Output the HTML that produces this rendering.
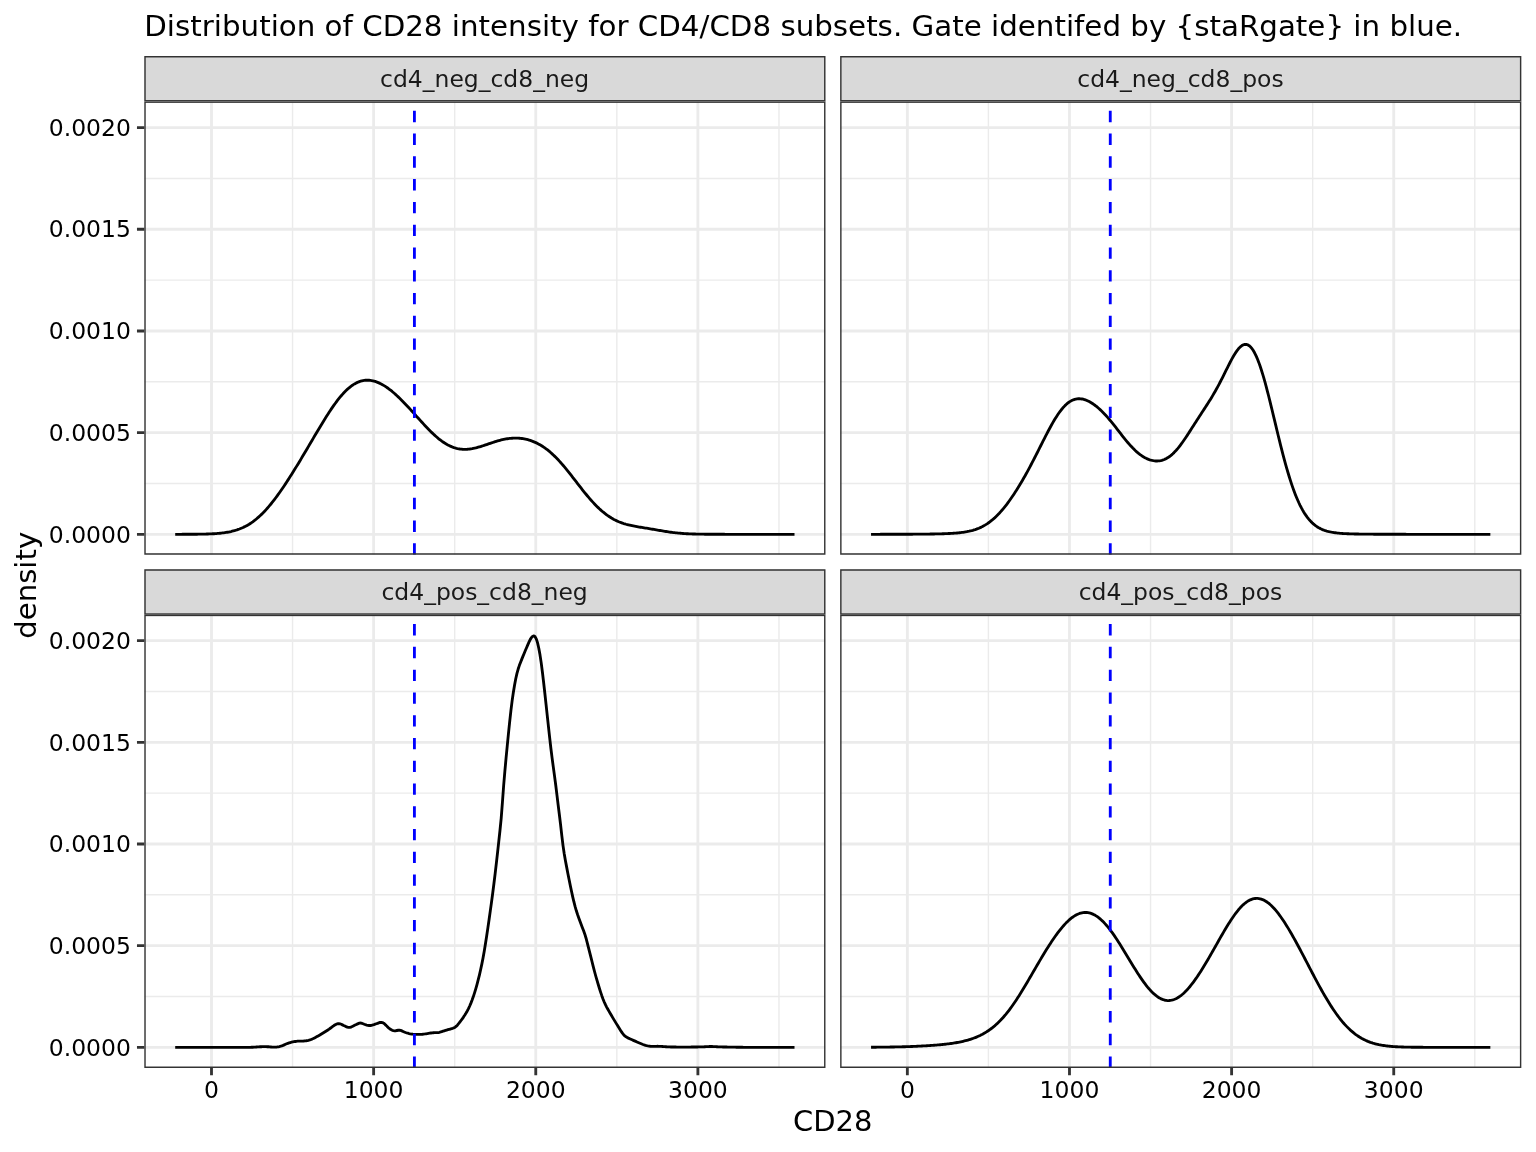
<!DOCTYPE html>
<html lang="en"><head><meta charset="utf-8"><title>CD28 density by CD4/CD8 subset</title>
<style>html,body{margin:0;padding:0;background:#fff}svg{display:block;will-change:transform;isolation:isolate;mix-blend-mode:multiply}text{font-family:"DejaVu Sans","Liberation Sans",sans-serif}</style></head><body>
<svg width="1536" height="1152" viewBox="0 0 1536 1152">
<rect width="1536" height="1152" fill="#fff"/>
<defs>
<clipPath id="cp00"><rect x="144.30" y="101.46" width="681.18" height="453.20"/></clipPath>
<clipPath id="cs00"><rect x="144.30" y="56.06" width="681.18" height="45.40"/></clipPath>
<clipPath id="cp01"><rect x="840.15" y="101.46" width="681.18" height="453.20"/></clipPath>
<clipPath id="cs01"><rect x="840.15" y="56.06" width="681.18" height="45.40"/></clipPath>
<clipPath id="cp10"><rect x="144.30" y="614.73" width="681.18" height="453.20"/></clipPath>
<clipPath id="cs10"><rect x="144.30" y="569.33" width="681.18" height="45.40"/></clipPath>
<clipPath id="cp11"><rect x="840.15" y="614.73" width="681.18" height="453.20"/></clipPath>
<clipPath id="cs11"><rect x="840.15" y="569.33" width="681.18" height="45.40"/></clipPath>
</defs>
<g clip-path="url(#cp00)">
<rect x="144.30" y="101.46" width="681.18" height="453.20" fill="#fff"/>
<path d="M144.30 483.47H825.48M144.30 381.80H825.48M144.30 280.12H825.48M144.30 178.45H825.48M292.56 101.46V554.66M454.69 101.46V554.66M616.83 101.46V554.66M778.96 101.46V554.66" stroke="#EBEBEB" stroke-width="1.42" fill="none"/>
<path d="M144.30 534.31H825.48M144.30 432.63H825.48M144.30 330.96H825.48M144.30 229.28H825.48M144.30 127.61H825.48M211.50 101.46V554.66M373.63 101.46V554.66M535.76 101.46V554.66M697.89 101.46V554.66" stroke="#EBEBEB" stroke-width="2.84" fill="none"/>
<polyline points="175.20,534.30 176.41,534.30 177.62,534.30 178.84,534.30 180.05,534.30 181.26,534.30 182.47,534.29 183.68,534.29 184.90,534.29 186.11,534.29 187.32,534.28 188.53,534.28 189.74,534.27 190.96,534.26 192.17,534.26 193.38,534.25 194.59,534.24 195.80,534.23 197.01,534.22 198.23,534.20 199.44,534.18 200.65,534.17 201.86,534.14 203.07,534.12 204.29,534.09 205.50,534.06 206.71,534.03 207.92,533.99 209.13,533.94 210.35,533.90 211.56,533.84 212.77,533.78 213.98,533.71 215.19,533.63 216.41,533.55 217.62,533.45 218.83,533.35 220.04,533.23 221.25,533.10 222.47,532.96 223.68,532.81 224.89,532.64 226.10,532.45 227.31,532.25 228.53,532.03 229.74,531.79 230.95,531.53 232.16,531.24 233.37,530.93 234.58,530.60 235.80,530.24 237.01,529.86 238.22,529.44 239.43,529.00 240.64,528.52 241.86,528.01 243.07,527.47 244.28,526.89 245.49,526.28 246.70,525.63 247.92,524.94 249.13,524.21 250.34,523.44 251.55,522.64 252.76,521.79 253.98,520.89 255.19,519.96 256.40,518.98 257.61,517.96 258.82,516.90 260.04,515.79 261.25,514.64 262.46,513.45 263.67,512.22 264.88,510.95 266.10,509.63 267.31,508.27 268.52,506.88 269.73,505.45 270.94,503.98 272.15,502.47 273.37,500.93 274.58,499.35 275.79,497.74 277.00,496.10 278.21,494.43 279.43,492.73 280.64,491.01 281.85,489.25 283.06,487.48 284.27,485.68 285.49,483.85 286.70,482.01 287.91,480.14 289.12,478.26 290.33,476.36 291.55,474.44 292.76,472.51 293.97,470.56 295.18,468.60 296.39,466.63 297.61,464.64 298.82,462.64 300.03,460.64 301.24,458.62 302.45,456.59 303.67,454.56 304.88,452.52 306.09,450.47 307.30,448.42 308.51,446.37 309.73,444.31 310.94,442.25 312.15,440.19 313.36,438.14 314.57,436.08 315.78,434.03 317.00,431.98 318.21,429.95 319.42,427.92 320.63,425.90 321.84,423.90 323.06,421.91 324.27,419.95 325.48,418.00 326.69,416.07 327.90,414.18 329.12,412.31 330.33,410.47 331.54,408.66 332.75,406.89 333.96,405.16 335.18,403.47 336.39,401.83 337.60,400.23 338.81,398.68 340.02,397.18 341.24,395.74 342.45,394.35 343.66,393.02 344.87,391.75 346.08,390.54 347.30,389.39 348.51,388.31 349.72,387.29 350.93,386.34 352.14,385.46 353.35,384.64 354.57,383.90 355.78,383.22 356.99,382.61 358.20,382.07 359.41,381.60 360.63,381.20 361.84,380.87 363.05,380.60 364.26,380.41 365.47,380.27 366.69,380.21 367.90,380.20 369.11,380.26 370.32,380.38 371.53,380.57 372.75,380.81 373.96,381.11 375.17,381.46 376.38,381.87 377.59,382.33 378.81,382.85 380.02,383.41 381.23,384.02 382.44,384.68 383.65,385.39 384.87,386.14 386.08,386.93 387.29,387.76 388.50,388.63 389.71,389.54 390.92,390.49 392.14,391.47 393.35,392.49 394.56,393.53 395.77,394.61 396.98,395.72 398.20,396.85 399.41,398.02 400.62,399.20 401.83,400.41 403.04,401.64 404.26,402.89 405.47,404.16 406.68,405.45 407.89,406.75 409.10,408.06 410.32,409.38 411.53,410.72 412.74,412.06 413.95,413.41 415.16,414.76 416.38,416.11 417.59,417.47 418.80,418.82 420.01,420.16 421.22,421.50 422.44,422.83 423.65,424.15 424.86,425.46 426.07,426.75 427.28,428.02 428.49,429.27 429.71,430.50 430.92,431.71 432.13,432.88 433.34,434.03 434.55,435.15 435.77,436.24 436.98,437.29 438.19,438.31 439.40,439.28 440.61,440.22 441.83,441.12 443.04,441.97 444.25,442.78 445.46,443.55 446.67,444.27 447.89,444.94 449.10,445.57 450.31,446.14 451.52,446.67 452.73,447.15 453.95,447.58 455.16,447.97 456.37,448.30 457.58,448.59 458.79,448.83 460.01,449.02 461.22,449.17 462.43,449.28 463.64,449.33 464.85,449.35 466.06,449.33 467.28,449.27 468.49,449.17 469.70,449.03 470.91,448.86 472.12,448.66 473.34,448.42 474.55,448.16 475.76,447.88 476.97,447.57 478.18,447.24 479.40,446.89 480.61,446.53 481.82,446.15 483.03,445.76 484.24,445.36 485.46,444.95 486.67,444.54 487.88,444.12 489.09,443.71 490.30,443.29 491.52,442.88 492.73,442.48 493.94,442.09 495.15,441.70 496.36,441.33 497.58,440.97 498.79,440.62 500.00,440.30 501.21,439.99 502.42,439.70 503.64,439.43 504.85,439.18 506.06,438.95 507.27,438.75 508.48,438.58 509.69,438.43 510.91,438.31 512.12,438.21 513.33,438.15 514.54,438.11 515.75,438.10 516.97,438.12 518.18,438.17 519.39,438.25 520.60,438.36 521.81,438.51 523.03,438.69 524.24,438.90 525.45,439.14 526.66,439.42 527.87,439.73 529.09,440.07 530.30,440.45 531.51,440.87 532.72,441.32 533.93,441.81 535.15,442.33 536.36,442.90 537.57,443.50 538.78,444.14 539.99,444.82 541.21,445.53 542.42,446.29 543.63,447.09 544.84,447.93 546.05,448.81 547.26,449.73 548.48,450.70 549.69,451.70 550.90,452.74 552.11,453.83 553.32,454.95 554.54,456.11 555.75,457.31 556.96,458.55 558.17,459.82 559.38,461.13 560.60,462.47 561.81,463.85 563.02,465.25 564.23,466.68 565.44,468.13 566.66,469.61 567.87,471.11 569.08,472.63 570.29,474.16 571.50,475.71 572.72,477.26 573.93,478.83 575.14,480.40 576.35,481.97 577.56,483.54 578.78,485.11 579.99,486.67 581.20,488.22 582.41,489.76 583.62,491.28 584.83,492.79 586.05,494.27 587.26,495.74 588.47,497.18 589.68,498.60 590.89,499.98 592.11,501.34 593.32,502.66 594.53,503.96 595.74,505.21 596.95,506.43 598.17,507.62 599.38,508.77 600.59,509.87 601.80,510.94 603.01,511.97 604.23,512.96 605.44,513.90 606.65,514.81 607.86,515.68 609.07,516.50 610.29,517.29 611.50,518.04 612.71,518.74 613.92,519.41 615.13,520.04 616.35,520.64 617.56,521.20 618.77,521.73 619.98,522.22 621.19,522.68 622.40,523.11 623.62,523.52 624.83,523.89 626.04,524.25 627.25,524.58 628.46,524.89 629.68,525.18 630.89,525.45 632.10,525.71 633.31,525.95 634.52,526.18 635.74,526.41 636.95,526.62 638.16,526.83 639.37,527.04 640.58,527.24 641.80,527.43 643.01,527.63 644.22,527.83 645.43,528.03 646.64,528.22 647.86,528.43 649.07,528.63 650.28,528.83 651.49,529.04 652.70,529.25 653.92,529.46 655.13,529.67 656.34,529.88 657.55,530.09 658.76,530.30 659.97,530.51 661.19,530.72 662.40,530.93 663.61,531.13 664.82,531.33 666.03,531.52 667.25,531.71 668.46,531.89 669.67,532.06 670.88,532.23 672.09,532.39 673.31,532.54 674.52,532.69 675.73,532.83 676.94,532.96 678.15,533.08 679.37,533.19 680.58,533.29 681.79,533.39 683.00,533.48 684.21,533.56 685.43,533.64 686.64,533.71 687.85,533.77 689.06,533.83 690.27,533.88 691.49,533.93 692.70,533.97 693.91,534.01 695.12,534.04 696.33,534.07 697.55,534.10 698.76,534.12 699.97,534.14 701.18,534.16 702.39,534.18 703.60,534.20 704.82,534.21 706.03,534.22 707.24,534.23 708.45,534.24 709.66,534.25 710.88,534.25 712.09,534.26 713.30,534.27 714.51,534.27 715.72,534.27 716.94,534.28 718.15,534.28 719.36,534.28 720.57,534.29 721.78,534.29 723.00,534.29 724.21,534.29 725.42,534.30 726.63,534.30 727.84,534.30 729.06,534.30 730.27,534.30 731.48,534.30 732.69,534.30 733.90,534.30 735.12,534.30 736.33,534.30 737.54,534.30 738.75,534.31 739.96,534.31 741.17,534.31 742.39,534.31 743.60,534.31 744.81,534.31 746.02,534.31 747.23,534.31 748.45,534.31 749.66,534.31 750.87,534.31 752.08,534.31 753.29,534.31 754.51,534.31 755.72,534.31 756.93,534.31 758.14,534.31 759.35,534.31 760.57,534.31 761.78,534.31 762.99,534.31 764.20,534.31 765.41,534.31 766.63,534.31 767.84,534.31 769.05,534.31 770.26,534.31 771.47,534.31 772.69,534.31 773.90,534.31 775.11,534.31 776.32,534.31 777.53,534.31 778.74,534.31 779.96,534.31 781.17,534.31 782.38,534.31 783.59,534.31 784.80,534.31 786.02,534.31 787.23,534.31 788.44,534.31 789.65,534.31 790.86,534.31 792.08,534.31 793.29,534.31 794.50,534.31" fill="none" stroke="#000" stroke-width="2.84" stroke-linejoin="round" stroke-linecap="butt"/>
<path d="M414.41 554.66V101.46" stroke="#0000FF" stroke-width="2.84" stroke-dasharray="11.38 11.38" fill="none"/>
<rect x="144.30" y="101.46" width="681.18" height="453.20" fill="none" stroke="#333333" stroke-width="2.84"/>
</g>
<g clip-path="url(#cs00)"><rect x="144.30" y="56.06" width="681.18" height="45.40" fill="#D9D9D9" stroke="#333333" stroke-width="2.84"/></g>
<text transform="translate(484.59 86.56) scale(1 0.945)" font-size="23.47" fill="#1A1A1A" text-anchor="middle">cd4_neg_cd8_neg</text>
<g clip-path="url(#cp01)">
<rect x="840.15" y="101.46" width="681.18" height="453.20" fill="#fff"/>
<path d="M840.15 483.47H1521.33M840.15 381.80H1521.33M840.15 280.12H1521.33M840.15 178.45H1521.33M988.41 101.46V554.66M1150.54 101.46V554.66M1312.67 101.46V554.66M1474.80 101.46V554.66" stroke="#EBEBEB" stroke-width="1.42" fill="none"/>
<path d="M840.15 534.31H1521.33M840.15 432.63H1521.33M840.15 330.96H1521.33M840.15 229.28H1521.33M840.15 127.61H1521.33M907.35 101.46V554.66M1069.48 101.46V554.66M1231.61 101.46V554.66M1393.74 101.46V554.66" stroke="#EBEBEB" stroke-width="2.84" fill="none"/>
<polyline points="871.05,534.30 872.26,534.30 873.47,534.30 874.69,534.30 875.90,534.30 877.11,534.30 878.32,534.30 879.53,534.30 880.75,534.29 881.96,534.29 883.17,534.29 884.38,534.29 885.59,534.29 886.81,534.29 888.02,534.29 889.23,534.28 890.44,534.28 891.65,534.28 892.86,534.28 894.08,534.27 895.29,534.27 896.50,534.27 897.71,534.27 898.92,534.26 900.14,534.26 901.35,534.26 902.56,534.25 903.77,534.25 904.98,534.24 906.20,534.24 907.41,534.23 908.62,534.23 909.83,534.22 911.04,534.21 912.26,534.21 913.47,534.20 914.68,534.19 915.89,534.18 917.10,534.18 918.32,534.17 919.53,534.16 920.74,534.15 921.95,534.13 923.16,534.12 924.38,534.11 925.59,534.10 926.80,534.08 928.01,534.07 929.22,534.05 930.43,534.03 931.65,534.01 932.86,533.99 934.07,533.97 935.28,533.95 936.49,533.92 937.71,533.89 938.92,533.87 940.13,533.83 941.34,533.80 942.55,533.76 943.77,533.73 944.98,533.68 946.19,533.64 947.40,533.59 948.61,533.53 949.83,533.47 951.04,533.41 952.25,533.34 953.46,533.26 954.67,533.17 955.89,533.08 957.10,532.98 958.31,532.87 959.52,532.74 960.73,532.61 961.95,532.46 963.16,532.30 964.37,532.12 965.58,531.93 966.79,531.72 968.00,531.48 969.22,531.23 970.43,530.95 971.64,530.65 972.85,530.32 974.06,529.96 975.28,529.57 976.49,529.15 977.70,528.69 978.91,528.20 980.12,527.67 981.34,527.10 982.55,526.49 983.76,525.84 984.97,525.14 986.18,524.40 987.40,523.61 988.61,522.77 989.82,521.89 991.03,520.95 992.24,519.97 993.46,518.93 994.67,517.85 995.88,516.71 997.09,515.52 998.30,514.29 999.52,513.00 1000.73,511.66 1001.94,510.28 1003.15,508.85 1004.36,507.37 1005.58,505.84 1006.79,504.27 1008.00,502.66 1009.21,501.00 1010.42,499.30 1011.63,497.56 1012.85,495.78 1014.06,493.96 1015.27,492.10 1016.48,490.20 1017.69,488.27 1018.91,486.30 1020.12,484.30 1021.33,482.26 1022.54,480.18 1023.75,478.08 1024.97,475.93 1026.18,473.76 1027.39,471.56 1028.60,469.32 1029.81,467.06 1031.03,464.77 1032.24,462.46 1033.45,460.12 1034.66,457.76 1035.87,455.38 1037.09,452.99 1038.30,450.58 1039.51,448.17 1040.72,445.76 1041.93,443.35 1043.15,440.94 1044.36,438.55 1045.57,436.17 1046.78,433.82 1047.99,431.50 1049.20,429.22 1050.42,426.98 1051.63,424.78 1052.84,422.65 1054.05,420.57 1055.26,418.57 1056.48,416.64 1057.69,414.79 1058.90,413.02 1060.11,411.35 1061.32,409.77 1062.54,408.29 1063.75,406.91 1064.96,405.64 1066.17,404.47 1067.38,403.42 1068.60,402.47 1069.81,401.63 1071.02,400.90 1072.23,400.29 1073.44,399.78 1074.66,399.37 1075.87,399.07 1077.08,398.86 1078.29,398.76 1079.50,398.74 1080.72,398.82 1081.93,398.99 1083.14,399.23 1084.35,399.56 1085.56,399.96 1086.77,400.43 1087.99,400.97 1089.20,401.58 1090.41,402.25 1091.62,402.98 1092.83,403.77 1094.05,404.61 1095.26,405.51 1096.47,406.46 1097.68,407.46 1098.89,408.51 1100.11,409.61 1101.32,410.76 1102.53,411.95 1103.74,413.18 1104.95,414.46 1106.17,415.78 1107.38,417.13 1108.59,418.53 1109.80,419.96 1111.01,421.41 1112.23,422.90 1113.44,424.41 1114.65,425.94 1115.86,427.49 1117.07,429.04 1118.29,430.61 1119.50,432.17 1120.71,433.73 1121.92,435.29 1123.13,436.83 1124.34,438.35 1125.56,439.84 1126.77,441.31 1127.98,442.75 1129.19,444.15 1130.40,445.51 1131.62,446.82 1132.83,448.09 1134.04,449.30 1135.25,450.47 1136.46,451.58 1137.68,452.63 1138.89,453.62 1140.10,454.55 1141.31,455.43 1142.52,456.24 1143.74,456.99 1144.95,457.68 1146.16,458.30 1147.37,458.86 1148.58,459.36 1149.80,459.80 1151.01,460.16 1152.22,460.46 1153.43,460.70 1154.64,460.86 1155.86,460.96 1157.07,460.98 1158.28,460.92 1159.49,460.79 1160.70,460.58 1161.91,460.29 1163.13,459.92 1164.34,459.46 1165.55,458.92 1166.76,458.29 1167.97,457.56 1169.19,456.75 1170.40,455.85 1171.61,454.86 1172.82,453.78 1174.03,452.61 1175.25,451.36 1176.46,450.02 1177.67,448.61 1178.88,447.12 1180.09,445.56 1181.31,443.94 1182.52,442.27 1183.73,440.54 1184.94,438.77 1186.15,436.96 1187.37,435.12 1188.58,433.26 1189.79,431.38 1191.00,429.49 1192.21,427.59 1193.43,425.69 1194.64,423.80 1195.85,421.91 1197.06,420.02 1198.27,418.15 1199.49,416.28 1200.70,414.43 1201.91,412.57 1203.12,410.72 1204.33,408.87 1205.54,407.01 1206.76,405.13 1207.97,403.24 1209.18,401.32 1210.39,399.38 1211.60,397.40 1212.82,395.38 1214.03,393.31 1215.24,391.20 1216.45,389.04 1217.66,386.83 1218.88,384.57 1220.09,382.26 1221.30,379.91 1222.51,377.52 1223.72,375.11 1224.94,372.68 1226.15,370.23 1227.36,367.80 1228.57,365.39 1229.78,363.01 1231.00,360.70 1232.21,358.45 1233.42,356.30 1234.63,354.27 1235.84,352.37 1237.06,350.62 1238.27,349.05 1239.48,347.68 1240.69,346.52 1241.90,345.59 1243.11,344.91 1244.33,344.50 1245.54,344.35 1246.75,344.50 1247.96,344.95 1249.17,345.69 1250.39,346.75 1251.60,348.12 1252.81,349.79 1254.02,351.77 1255.23,354.06 1256.45,356.64 1257.66,359.51 1258.87,362.65 1260.08,366.06 1261.29,369.71 1262.51,373.59 1263.72,377.68 1264.93,381.96 1266.14,386.42 1267.35,391.03 1268.57,395.77 1269.78,400.61 1270.99,405.54 1272.20,410.54 1273.41,415.57 1274.63,420.63 1275.84,425.69 1277.05,430.73 1278.26,435.73 1279.47,440.68 1280.68,445.55 1281.90,450.34 1283.11,455.03 1284.32,459.60 1285.53,464.04 1286.74,468.35 1287.96,472.51 1289.17,476.53 1290.38,480.38 1291.59,484.08 1292.80,487.61 1294.02,490.97 1295.23,494.16 1296.44,497.19 1297.65,500.05 1298.86,502.75 1300.08,505.29 1301.29,507.67 1302.50,509.89 1303.71,511.97 1304.92,513.90 1306.14,515.70 1307.35,517.36 1308.56,518.90 1309.77,520.32 1310.98,521.63 1312.20,522.83 1313.41,523.92 1314.62,524.93 1315.83,525.85 1317.04,526.68 1318.25,527.44 1319.47,528.13 1320.68,528.75 1321.89,529.32 1323.10,529.83 1324.31,530.29 1325.53,530.70 1326.74,531.07 1327.95,531.40 1329.16,531.70 1330.37,531.97 1331.59,532.21 1332.80,532.42 1334.01,532.61 1335.22,532.78 1336.43,532.93 1337.65,533.07 1338.86,533.19 1340.07,533.30 1341.28,533.39 1342.49,533.48 1343.71,533.56 1344.92,533.62 1346.13,533.68 1347.34,533.74 1348.55,533.79 1349.77,533.83 1350.98,533.87 1352.19,533.91 1353.40,533.94 1354.61,533.97 1355.82,534.00 1357.04,534.02 1358.25,534.04 1359.46,534.06 1360.67,534.08 1361.88,534.10 1363.10,534.11 1364.31,534.13 1365.52,534.14 1366.73,534.15 1367.94,534.16 1369.16,534.17 1370.37,534.18 1371.58,534.19 1372.79,534.20 1374.00,534.21 1375.22,534.21 1376.43,534.22 1377.64,534.23 1378.85,534.23 1380.06,534.24 1381.28,534.24 1382.49,534.25 1383.70,534.25 1384.91,534.26 1386.12,534.26 1387.34,534.26 1388.55,534.27 1389.76,534.27 1390.97,534.27 1392.18,534.28 1393.40,534.28 1394.61,534.28 1395.82,534.28 1397.03,534.28 1398.24,534.29 1399.45,534.29 1400.67,534.29 1401.88,534.29 1403.09,534.29 1404.30,534.29 1405.51,534.29 1406.73,534.30 1407.94,534.30 1409.15,534.30 1410.36,534.30 1411.57,534.30 1412.79,534.30 1414.00,534.30 1415.21,534.30 1416.42,534.30 1417.63,534.30 1418.85,534.30 1420.06,534.30 1421.27,534.30 1422.48,534.31 1423.69,534.31 1424.91,534.31 1426.12,534.31 1427.33,534.31 1428.54,534.31 1429.75,534.31 1430.97,534.31 1432.18,534.31 1433.39,534.31 1434.60,534.31 1435.81,534.31 1437.02,534.31 1438.24,534.31 1439.45,534.31 1440.66,534.31 1441.87,534.31 1443.08,534.31 1444.30,534.31 1445.51,534.31 1446.72,534.31 1447.93,534.31 1449.14,534.31 1450.36,534.31 1451.57,534.31 1452.78,534.31 1453.99,534.31 1455.20,534.31 1456.42,534.31 1457.63,534.31 1458.84,534.31 1460.05,534.31 1461.26,534.31 1462.48,534.31 1463.69,534.31 1464.90,534.31 1466.11,534.31 1467.32,534.31 1468.54,534.31 1469.75,534.31 1470.96,534.31 1472.17,534.31 1473.38,534.31 1474.59,534.31 1475.81,534.31 1477.02,534.31 1478.23,534.31 1479.44,534.31 1480.65,534.31 1481.87,534.31 1483.08,534.31 1484.29,534.31 1485.50,534.31 1486.71,534.31 1487.93,534.31 1489.14,534.31 1490.35,534.31" fill="none" stroke="#000" stroke-width="2.84" stroke-linejoin="round" stroke-linecap="butt"/>
<path d="M1110.26 554.66V101.46" stroke="#0000FF" stroke-width="2.84" stroke-dasharray="11.38 11.38" fill="none"/>
<rect x="840.15" y="101.46" width="681.18" height="453.20" fill="none" stroke="#333333" stroke-width="2.84"/>
</g>
<g clip-path="url(#cs01)"><rect x="840.15" y="56.06" width="681.18" height="45.40" fill="#D9D9D9" stroke="#333333" stroke-width="2.84"/></g>
<text transform="translate(1180.44 86.56) scale(1 0.945)" font-size="23.47" fill="#1A1A1A" text-anchor="middle">cd4_neg_cd8_pos</text>
<g clip-path="url(#cp10)">
<rect x="144.30" y="614.73" width="681.18" height="453.20" fill="#fff"/>
<path d="M144.30 996.49H825.48M144.30 894.82H825.48M144.30 793.14H825.48M144.30 691.47H825.48M292.56 614.73V1067.93M454.69 614.73V1067.93M616.83 614.73V1067.93M778.96 614.73V1067.93" stroke="#EBEBEB" stroke-width="1.42" fill="none"/>
<path d="M144.30 1047.33H825.48M144.30 945.66H825.48M144.30 843.98H825.48M144.30 742.31H825.48M144.30 640.63H825.48M211.50 614.73V1067.93M373.63 614.73V1067.93M535.76 614.73V1067.93M697.89 614.73V1067.93" stroke="#EBEBEB" stroke-width="2.84" fill="none"/>
<polyline points="175.20,1047.33 176.41,1047.33 177.62,1047.33 178.84,1047.33 180.05,1047.33 181.26,1047.33 182.47,1047.33 183.68,1047.33 184.90,1047.33 186.11,1047.33 187.32,1047.33 188.53,1047.33 189.74,1047.33 190.96,1047.33 192.17,1047.33 193.38,1047.33 194.59,1047.33 195.80,1047.33 197.01,1047.33 198.23,1047.33 199.44,1047.33 200.65,1047.33 201.86,1047.33 203.07,1047.33 204.29,1047.33 205.50,1047.33 206.71,1047.33 207.92,1047.33 209.13,1047.33 210.35,1047.33 211.56,1047.33 212.77,1047.33 213.98,1047.33 215.19,1047.33 216.41,1047.33 217.62,1047.33 218.83,1047.33 220.04,1047.33 221.25,1047.33 222.47,1047.33 223.68,1047.33 224.89,1047.33 226.10,1047.33 227.31,1047.33 228.53,1047.33 229.74,1047.33 230.95,1047.33 232.16,1047.33 233.37,1047.33 234.58,1047.33 235.80,1047.33 237.01,1047.33 238.22,1047.33 239.43,1047.33 240.64,1047.33 241.86,1047.33 243.07,1047.33 244.28,1047.33 245.49,1047.33 246.70,1047.33 247.92,1047.33 249.13,1047.33 250.34,1047.32 251.55,1047.28 252.76,1047.23 253.98,1047.17 255.19,1047.10 256.40,1047.02 257.61,1046.94 258.82,1046.87 260.04,1046.79 261.25,1046.72 262.46,1046.67 263.67,1046.63 264.88,1046.62 266.10,1046.65 267.31,1046.71 268.52,1046.79 269.73,1046.88 270.94,1046.97 272.15,1047.05 273.37,1047.10 274.58,1047.12 275.79,1047.08 277.00,1046.97 278.21,1046.78 279.43,1046.52 280.64,1046.20 281.85,1045.82 283.06,1045.36 284.27,1044.85 285.49,1044.31 286.70,1043.79 287.91,1043.31 289.12,1042.90 290.33,1042.54 291.55,1042.23 292.76,1041.95 293.97,1041.70 295.18,1041.48 296.39,1041.30 297.61,1041.17 298.82,1041.10 300.03,1041.08 301.24,1041.09 302.45,1041.08 303.67,1041.02 304.88,1040.91 306.09,1040.75 307.30,1040.53 308.51,1040.27 309.73,1039.94 310.94,1039.54 312.15,1039.06 313.36,1038.51 314.57,1037.91 315.78,1037.28 317.00,1036.62 318.21,1035.94 319.42,1035.24 320.63,1034.51 321.84,1033.77 323.06,1033.02 324.27,1032.27 325.48,1031.50 326.69,1030.73 327.90,1029.94 329.12,1029.11 330.33,1028.23 331.54,1027.32 332.75,1026.42 333.96,1025.56 335.18,1024.78 336.39,1024.14 337.60,1023.72 338.81,1023.59 340.02,1023.79 341.24,1024.26 342.45,1024.88 343.66,1025.52 344.87,1026.09 346.08,1026.63 347.30,1027.13 348.51,1027.44 349.72,1027.42 350.93,1027.08 352.14,1026.54 353.35,1025.94 354.57,1025.33 355.78,1024.74 356.99,1024.16 358.20,1023.62 359.41,1023.20 360.63,1023.03 361.84,1023.23 363.05,1023.70 364.26,1024.23 365.47,1024.66 366.69,1025.02 367.90,1025.33 369.11,1025.50 370.32,1025.48 371.53,1025.28 372.75,1024.97 373.96,1024.59 375.17,1024.18 376.38,1023.77 377.59,1023.33 378.81,1022.87 380.02,1022.47 381.23,1022.30 382.44,1022.56 383.65,1023.23 384.87,1024.20 386.08,1025.37 387.29,1026.61 388.50,1027.77 389.71,1028.74 390.92,1029.57 392.14,1030.23 393.35,1030.68 394.56,1030.85 395.77,1030.74 396.98,1030.48 398.20,1030.25 399.41,1030.21 400.62,1030.45 401.83,1030.91 403.04,1031.47 404.26,1032.04 405.47,1032.52 406.68,1032.91 407.89,1033.23 409.10,1033.53 410.32,1033.80 411.53,1034.03 412.74,1034.20 413.95,1034.31 415.16,1034.38 416.38,1034.42 417.59,1034.43 418.80,1034.42 420.01,1034.39 421.22,1034.32 422.44,1034.23 423.65,1034.11 424.86,1033.96 426.07,1033.78 427.28,1033.58 428.49,1033.37 429.71,1033.17 430.92,1032.97 432.13,1032.81 433.34,1032.71 434.55,1032.67 435.77,1032.67 436.98,1032.65 438.19,1032.54 439.40,1032.30 440.61,1031.97 441.83,1031.60 443.04,1031.22 444.25,1030.83 445.46,1030.45 446.67,1030.08 447.89,1029.72 449.10,1029.37 450.31,1029.02 451.52,1028.66 452.73,1028.29 453.95,1027.83 455.16,1027.15 456.37,1026.17 457.58,1024.90 458.79,1023.43 460.01,1021.85 461.22,1020.23 462.43,1018.57 463.64,1016.83 464.85,1015.00 466.06,1013.06 467.28,1010.97 468.49,1008.64 469.70,1006.02 470.91,1003.13 472.12,999.99 473.34,996.58 474.55,992.88 475.76,988.90 476.97,984.61 478.18,979.98 479.40,975.04 480.61,969.79 481.82,964.16 483.03,957.98 484.24,951.18 485.46,943.81 486.67,935.98 487.88,927.84 489.09,919.47 490.30,910.90 491.52,902.08 492.73,892.95 493.94,883.46 495.15,873.55 496.36,863.15 497.58,852.32 498.79,841.31 500.00,830.27 501.21,818.09 502.42,802.43 503.64,785.77 504.85,771.26 506.06,758.18 507.27,745.67 508.48,733.47 509.69,721.69 510.91,710.64 512.12,700.86 513.33,692.48 514.54,685.15 515.75,678.77 516.97,673.44 518.18,669.02 519.39,665.35 520.60,662.15 521.81,659.11 523.03,656.14 524.24,653.21 525.45,650.31 526.66,647.43 527.87,644.61 529.09,641.88 530.30,639.38 531.51,637.46 532.72,636.29 533.93,635.93 535.15,636.78 536.36,639.11 537.57,642.93 538.78,648.21 539.99,654.87 541.21,662.88 542.42,672.22 543.63,682.47 544.84,693.27 546.05,704.36 547.26,715.56 548.48,726.80 549.69,737.93 550.90,748.47 552.11,758.11 553.32,767.18 554.54,776.07 555.75,785.27 556.96,795.10 558.17,805.10 559.38,814.79 560.60,824.82 561.81,835.71 563.02,845.61 564.23,853.68 565.44,860.65 566.66,867.13 567.87,873.42 569.08,879.55 570.29,885.51 571.50,891.30 572.72,896.83 573.93,901.97 575.14,906.63 576.35,910.80 577.56,914.52 578.78,917.92 579.99,921.20 581.20,924.45 582.41,927.64 583.62,930.77 584.83,934.17 586.05,938.23 587.26,942.84 588.47,947.62 589.68,952.41 590.89,957.21 592.11,962.00 593.32,966.79 594.53,971.50 595.74,976.00 596.95,980.21 598.17,984.26 599.38,988.22 600.59,992.06 601.80,995.67 603.01,999.00 604.23,1002.01 605.44,1004.70 606.65,1007.09 607.86,1009.29 609.07,1011.40 610.29,1013.49 611.50,1015.55 612.71,1017.60 613.92,1019.62 615.13,1021.63 616.35,1023.62 617.56,1025.60 618.77,1027.57 619.98,1029.51 621.19,1031.40 622.40,1033.16 623.62,1034.68 624.83,1035.89 626.04,1036.78 627.25,1037.49 628.46,1038.12 629.68,1038.71 630.89,1039.28 632.10,1039.82 633.31,1040.35 634.52,1040.89 635.74,1041.42 636.95,1041.95 638.16,1042.48 639.37,1043.00 640.58,1043.51 641.80,1044.00 643.01,1044.47 644.22,1044.90 645.43,1045.29 646.64,1045.63 647.86,1045.90 649.07,1046.12 650.28,1046.26 651.49,1046.33 652.70,1046.36 653.92,1046.35 655.13,1046.32 656.34,1046.30 657.55,1046.29 658.76,1046.32 659.97,1046.37 661.19,1046.44 662.40,1046.52 663.61,1046.61 664.82,1046.69 666.03,1046.77 667.25,1046.84 668.46,1046.89 669.67,1046.93 670.88,1046.96 672.09,1046.98 673.31,1047.00 674.52,1047.02 675.73,1047.03 676.94,1047.05 678.15,1047.06 679.37,1047.07 680.58,1047.07 681.79,1047.08 683.00,1047.08 684.21,1047.08 685.43,1047.08 686.64,1047.08 687.85,1047.07 689.06,1047.06 690.27,1047.05 691.49,1047.04 692.70,1047.03 693.91,1047.02 695.12,1047.00 696.33,1046.99 697.55,1046.97 698.76,1046.95 699.97,1046.93 701.18,1046.91 702.39,1046.86 703.60,1046.81 704.82,1046.74 706.03,1046.68 707.24,1046.61 708.45,1046.56 709.66,1046.53 710.88,1046.52 712.09,1046.54 713.30,1046.58 714.51,1046.63 715.72,1046.68 716.94,1046.74 718.15,1046.80 719.36,1046.86 720.57,1046.90 721.78,1046.93 723.00,1046.96 724.21,1046.98 725.42,1047.00 726.63,1047.03 727.84,1047.05 729.06,1047.08 730.27,1047.10 731.48,1047.12 732.69,1047.15 733.90,1047.17 735.12,1047.19 736.33,1047.21 737.54,1047.23 738.75,1047.25 739.96,1047.26 741.17,1047.28 742.39,1047.29 743.60,1047.31 744.81,1047.32 746.02,1047.33 747.23,1047.33 748.45,1047.33 749.66,1047.33 750.87,1047.33 752.08,1047.33 753.29,1047.33 754.51,1047.33 755.72,1047.33 756.93,1047.33 758.14,1047.33 759.35,1047.33 760.57,1047.33 761.78,1047.33 762.99,1047.33 764.20,1047.33 765.41,1047.33 766.63,1047.33 767.84,1047.33 769.05,1047.33 770.26,1047.33 771.47,1047.33 772.69,1047.33 773.90,1047.33 775.11,1047.33 776.32,1047.33 777.53,1047.33 778.74,1047.33 779.96,1047.33 781.17,1047.33 782.38,1047.33 783.59,1047.33 784.80,1047.33 786.02,1047.33 787.23,1047.33 788.44,1047.33 789.65,1047.33 790.86,1047.33 792.08,1047.33 793.29,1047.33 794.50,1047.33" fill="none" stroke="#000" stroke-width="2.84" stroke-linejoin="round" stroke-linecap="butt"/>
<path d="M414.41 1067.93V614.73" stroke="#0000FF" stroke-width="2.84" stroke-dasharray="11.38 11.38" fill="none"/>
<rect x="144.30" y="614.73" width="681.18" height="453.20" fill="none" stroke="#333333" stroke-width="2.84"/>
</g>
<g clip-path="url(#cs10)"><rect x="144.30" y="569.33" width="681.18" height="45.40" fill="#D9D9D9" stroke="#333333" stroke-width="2.84"/></g>
<text transform="translate(484.59 599.83) scale(1 0.945)" font-size="23.47" fill="#1A1A1A" text-anchor="middle">cd4_pos_cd8_neg</text>
<g clip-path="url(#cp11)">
<rect x="840.15" y="614.73" width="681.18" height="453.20" fill="#fff"/>
<path d="M840.15 996.49H1521.33M840.15 894.82H1521.33M840.15 793.14H1521.33M840.15 691.47H1521.33M988.41 614.73V1067.93M1150.54 614.73V1067.93M1312.67 614.73V1067.93M1474.80 614.73V1067.93" stroke="#EBEBEB" stroke-width="1.42" fill="none"/>
<path d="M840.15 1047.33H1521.33M840.15 945.66H1521.33M840.15 843.98H1521.33M840.15 742.31H1521.33M840.15 640.63H1521.33M907.35 614.73V1067.93M1069.48 614.73V1067.93M1231.61 614.73V1067.93M1393.74 614.73V1067.93" stroke="#EBEBEB" stroke-width="2.84" fill="none"/>
<polyline points="871.05,1047.25 872.26,1047.24 873.47,1047.23 874.69,1047.22 875.90,1047.21 877.11,1047.20 878.32,1047.19 879.53,1047.18 880.75,1047.17 881.96,1047.16 883.17,1047.14 884.38,1047.13 885.59,1047.11 886.81,1047.10 888.02,1047.08 889.23,1047.06 890.44,1047.04 891.65,1047.02 892.86,1047.00 894.08,1046.98 895.29,1046.95 896.50,1046.93 897.71,1046.90 898.92,1046.87 900.14,1046.84 901.35,1046.81 902.56,1046.78 903.77,1046.74 904.98,1046.71 906.20,1046.67 907.41,1046.63 908.62,1046.59 909.83,1046.55 911.04,1046.50 912.26,1046.46 913.47,1046.41 914.68,1046.36 915.89,1046.31 917.10,1046.25 918.32,1046.20 919.53,1046.14 920.74,1046.08 921.95,1046.01 923.16,1045.95 924.38,1045.88 925.59,1045.81 926.80,1045.74 928.01,1045.66 929.22,1045.59 930.43,1045.50 931.65,1045.42 932.86,1045.33 934.07,1045.24 935.28,1045.15 936.49,1045.05 937.71,1044.95 938.92,1044.84 940.13,1044.73 941.34,1044.61 942.55,1044.49 943.77,1044.37 944.98,1044.24 946.19,1044.10 947.40,1043.96 948.61,1043.81 949.83,1043.65 951.04,1043.48 952.25,1043.31 953.46,1043.13 954.67,1042.93 955.89,1042.73 957.10,1042.52 958.31,1042.30 959.52,1042.06 960.73,1041.82 961.95,1041.56 963.16,1041.28 964.37,1040.99 965.58,1040.69 966.79,1040.37 968.00,1040.03 969.22,1039.67 970.43,1039.29 971.64,1038.89 972.85,1038.47 974.06,1038.03 975.28,1037.56 976.49,1037.07 977.70,1036.55 978.91,1036.01 980.12,1035.44 981.34,1034.83 982.55,1034.20 983.76,1033.53 984.97,1032.83 986.18,1032.09 987.40,1031.31 988.61,1030.50 989.82,1029.65 991.03,1028.76 992.24,1027.83 993.46,1026.85 994.67,1025.84 995.88,1024.77 997.09,1023.67 998.30,1022.51 999.52,1021.31 1000.73,1020.07 1001.94,1018.77 1003.15,1017.43 1004.36,1016.04 1005.58,1014.61 1006.79,1013.12 1008.00,1011.59 1009.21,1010.02 1010.42,1008.40 1011.63,1006.74 1012.85,1005.03 1014.06,1003.28 1015.27,1001.50 1016.48,999.67 1017.69,997.81 1018.91,995.92 1020.12,994.00 1021.33,992.05 1022.54,990.07 1023.75,988.07 1024.97,986.05 1026.18,984.01 1027.39,981.95 1028.60,979.89 1029.81,977.81 1031.03,975.72 1032.24,973.63 1033.45,971.54 1034.66,969.45 1035.87,967.36 1037.09,965.28 1038.30,963.21 1039.51,961.15 1040.72,959.10 1041.93,957.06 1043.15,955.05 1044.36,953.05 1045.57,951.07 1046.78,949.12 1047.99,947.19 1049.20,945.29 1050.42,943.43 1051.63,941.59 1052.84,939.79 1054.05,938.02 1055.26,936.29 1056.48,934.61 1057.69,932.96 1058.90,931.37 1060.11,929.82 1061.32,928.32 1062.54,926.87 1063.75,925.48 1064.96,924.14 1066.17,922.87 1067.38,921.66 1068.60,920.51 1069.81,919.43 1071.02,918.42 1072.23,917.48 1073.44,916.62 1074.66,915.83 1075.87,915.12 1077.08,914.49 1078.29,913.95 1079.50,913.48 1080.72,913.10 1081.93,912.81 1083.14,912.60 1084.35,912.48 1085.56,912.44 1086.77,912.50 1087.99,912.64 1089.20,912.88 1090.41,913.20 1091.62,913.61 1092.83,914.11 1094.05,914.69 1095.26,915.36 1096.47,916.12 1097.68,916.95 1098.89,917.87 1100.11,918.87 1101.32,919.95 1102.53,921.10 1103.74,922.32 1104.95,923.62 1106.17,924.98 1107.38,926.41 1108.59,927.90 1109.80,929.45 1111.01,931.05 1112.23,932.71 1113.44,934.42 1114.65,936.17 1115.86,937.97 1117.07,939.81 1118.29,941.68 1119.50,943.58 1120.71,945.51 1121.92,947.46 1123.13,949.44 1124.34,951.43 1125.56,953.43 1126.77,955.44 1127.98,957.45 1129.19,959.46 1130.40,961.47 1131.62,963.47 1132.83,965.45 1134.04,967.42 1135.25,969.37 1136.46,971.29 1137.68,973.18 1138.89,975.04 1140.10,976.87 1141.31,978.65 1142.52,980.38 1143.74,982.07 1144.95,983.70 1146.16,985.28 1147.37,986.80 1148.58,988.25 1149.80,989.64 1151.01,990.96 1152.22,992.20 1153.43,993.37 1154.64,994.45 1155.86,995.46 1157.07,996.38 1158.28,997.21 1159.49,997.95 1160.70,998.61 1161.91,999.17 1163.13,999.63 1164.34,1000.01 1165.55,1000.28 1166.76,1000.46 1167.97,1000.55 1169.19,1000.53 1170.40,1000.42 1171.61,1000.22 1172.82,999.92 1174.03,999.52 1175.25,999.04 1176.46,998.46 1177.67,997.79 1178.88,997.04 1180.09,996.20 1181.31,995.28 1182.52,994.27 1183.73,993.19 1184.94,992.04 1186.15,990.81 1187.37,989.51 1188.58,988.14 1189.79,986.71 1191.00,985.22 1192.21,983.67 1193.43,982.06 1194.64,980.40 1195.85,978.69 1197.06,976.94 1198.27,975.14 1199.49,973.29 1200.70,971.41 1201.91,969.49 1203.12,967.54 1204.33,965.56 1205.54,963.54 1206.76,961.50 1207.97,959.44 1209.18,957.36 1210.39,955.26 1211.60,953.14 1212.82,951.01 1214.03,948.87 1215.24,946.73 1216.45,944.58 1217.66,942.44 1218.88,940.30 1220.09,938.17 1221.30,936.05 1222.51,933.94 1223.72,931.86 1224.94,929.80 1226.15,927.77 1227.36,925.77 1228.57,923.81 1229.78,921.90 1231.00,920.03 1232.21,918.21 1233.42,916.44 1234.63,914.74 1235.84,913.10 1237.06,911.53 1238.27,910.03 1239.48,908.61 1240.69,907.27 1241.90,906.01 1243.11,904.84 1244.33,903.76 1245.54,902.78 1246.75,901.89 1247.96,901.09 1249.17,900.40 1250.39,899.81 1251.60,899.32 1252.81,898.93 1254.02,898.65 1255.23,898.47 1256.45,898.39 1257.66,898.42 1258.87,898.56 1260.08,898.79 1261.29,899.13 1262.51,899.57 1263.72,900.11 1264.93,900.74 1266.14,901.47 1267.35,902.29 1268.57,903.21 1269.78,904.21 1270.99,905.29 1272.20,906.46 1273.41,907.71 1274.63,909.04 1275.84,910.44 1277.05,911.91 1278.26,913.45 1279.47,915.05 1280.68,916.72 1281.90,918.45 1283.11,920.23 1284.32,922.07 1285.53,923.96 1286.74,925.89 1287.96,927.87 1289.17,929.89 1290.38,931.96 1291.59,934.05 1292.80,936.18 1294.02,938.35 1295.23,940.54 1296.44,942.75 1297.65,944.99 1298.86,947.25 1300.08,949.53 1301.29,951.82 1302.50,954.12 1303.71,956.44 1304.92,958.76 1306.14,961.09 1307.35,963.42 1308.56,965.75 1309.77,968.08 1310.98,970.40 1312.20,972.72 1313.41,975.02 1314.62,977.32 1315.83,979.60 1317.04,981.86 1318.25,984.10 1319.47,986.33 1320.68,988.52 1321.89,990.69 1323.10,992.84 1324.31,994.95 1325.53,997.03 1326.74,999.08 1327.95,1001.08 1329.16,1003.05 1330.37,1004.98 1331.59,1006.87 1332.80,1008.72 1334.01,1010.52 1335.22,1012.28 1336.43,1013.98 1337.65,1015.65 1338.86,1017.26 1340.07,1018.82 1341.28,1020.33 1342.49,1021.79 1343.71,1023.21 1344.92,1024.57 1346.13,1025.88 1347.34,1027.13 1348.55,1028.34 1349.77,1029.50 1350.98,1030.61 1352.19,1031.66 1353.40,1032.67 1354.61,1033.64 1355.82,1034.55 1357.04,1035.42 1358.25,1036.24 1359.46,1037.03 1360.67,1037.76 1361.88,1038.46 1363.10,1039.12 1364.31,1039.73 1365.52,1040.32 1366.73,1040.86 1367.94,1041.37 1369.16,1041.85 1370.37,1042.30 1371.58,1042.71 1372.79,1043.10 1374.00,1043.46 1375.22,1043.79 1376.43,1044.10 1377.64,1044.39 1378.85,1044.66 1380.06,1044.90 1381.28,1045.12 1382.49,1045.33 1383.70,1045.52 1384.91,1045.70 1386.12,1045.86 1387.34,1046.00 1388.55,1046.13 1389.76,1046.26 1390.97,1046.37 1392.18,1046.47 1393.40,1046.56 1394.61,1046.64 1395.82,1046.71 1397.03,1046.78 1398.24,1046.84 1399.45,1046.90 1400.67,1046.94 1401.88,1046.99 1403.09,1047.03 1404.30,1047.06 1405.51,1047.09 1406.73,1047.12 1407.94,1047.15 1409.15,1047.17 1410.36,1047.19 1411.57,1047.21 1412.79,1047.22 1414.00,1047.24 1415.21,1047.25 1416.42,1047.26 1417.63,1047.27 1418.85,1047.28 1420.06,1047.28 1421.27,1047.29 1422.48,1047.29 1423.69,1047.30 1424.91,1047.30 1426.12,1047.31 1427.33,1047.31 1428.54,1047.31 1429.75,1047.32 1430.97,1047.32 1432.18,1047.32 1433.39,1047.32 1434.60,1047.32 1435.81,1047.32 1437.02,1047.32 1438.24,1047.33 1439.45,1047.33 1440.66,1047.33 1441.87,1047.33 1443.08,1047.33 1444.30,1047.33 1445.51,1047.33 1446.72,1047.33 1447.93,1047.33 1449.14,1047.33 1450.36,1047.33 1451.57,1047.33 1452.78,1047.33 1453.99,1047.33 1455.20,1047.33 1456.42,1047.33 1457.63,1047.33 1458.84,1047.33 1460.05,1047.33 1461.26,1047.33 1462.48,1047.33 1463.69,1047.33 1464.90,1047.33 1466.11,1047.33 1467.32,1047.33 1468.54,1047.33 1469.75,1047.33 1470.96,1047.33 1472.17,1047.33 1473.38,1047.33 1474.59,1047.33 1475.81,1047.33 1477.02,1047.33 1478.23,1047.33 1479.44,1047.33 1480.65,1047.33 1481.87,1047.33 1483.08,1047.33 1484.29,1047.33 1485.50,1047.33 1486.71,1047.33 1487.93,1047.33 1489.14,1047.33 1490.35,1047.33" fill="none" stroke="#000" stroke-width="2.84" stroke-linejoin="round" stroke-linecap="butt"/>
<path d="M1110.26 1067.93V614.73" stroke="#0000FF" stroke-width="2.84" stroke-dasharray="11.38 11.38" fill="none"/>
<rect x="840.15" y="614.73" width="681.18" height="453.20" fill="none" stroke="#333333" stroke-width="2.84"/>
</g>
<g clip-path="url(#cs11)"><rect x="840.15" y="569.33" width="681.18" height="45.40" fill="#D9D9D9" stroke="#333333" stroke-width="2.84"/></g>
<text transform="translate(1180.44 599.83) scale(1 0.945)" font-size="23.47" fill="#1A1A1A" text-anchor="middle">cd4_pos_cd8_pos</text>
<text x="130.9" y="542.51" font-size="23.47" fill="#000" text-anchor="end">0.0000</text>
<text x="130.9" y="440.83" font-size="23.47" fill="#000" text-anchor="end">0.0005</text>
<text x="130.9" y="339.16" font-size="23.47" fill="#000" text-anchor="end">0.0010</text>
<text x="130.9" y="237.48" font-size="23.47" fill="#000" text-anchor="end">0.0015</text>
<text x="130.9" y="135.81" font-size="23.47" fill="#000" text-anchor="end">0.0020</text>
<path d="M136.97 534.31H144.30M136.97 432.63H144.30M136.97 330.96H144.30M136.97 229.28H144.30M136.97 127.61H144.30" stroke="#333333" stroke-width="2.84" fill="none"/>
<text x="130.9" y="1055.53" font-size="23.47" fill="#000" text-anchor="end">0.0000</text>
<text x="130.9" y="953.86" font-size="23.47" fill="#000" text-anchor="end">0.0005</text>
<text x="130.9" y="852.18" font-size="23.47" fill="#000" text-anchor="end">0.0010</text>
<text x="130.9" y="750.51" font-size="23.47" fill="#000" text-anchor="end">0.0015</text>
<text x="130.9" y="648.83" font-size="23.47" fill="#000" text-anchor="end">0.0020</text>
<path d="M136.97 1047.33H144.30M136.97 945.66H144.30M136.97 843.98H144.30M136.97 742.31H144.30M136.97 640.63H144.30" stroke="#333333" stroke-width="2.84" fill="none"/>
<text x="211.50" y="1097.9" font-size="23.47" fill="#000" text-anchor="middle">0</text>
<text x="373.63" y="1097.9" font-size="23.47" fill="#000" text-anchor="middle">1000</text>
<text x="535.76" y="1097.9" font-size="23.47" fill="#000" text-anchor="middle">2000</text>
<text x="697.89" y="1097.9" font-size="23.47" fill="#000" text-anchor="middle">3000</text>
<path d="M211.50 1067.93V1075.26M373.63 1067.93V1075.26M535.76 1067.93V1075.26M697.89 1067.93V1075.26" stroke="#333333" stroke-width="2.84" fill="none"/>
<text x="907.35" y="1097.9" font-size="23.47" fill="#000" text-anchor="middle">0</text>
<text x="1069.48" y="1097.9" font-size="23.47" fill="#000" text-anchor="middle">1000</text>
<text x="1231.61" y="1097.9" font-size="23.47" fill="#000" text-anchor="middle">2000</text>
<text x="1393.74" y="1097.9" font-size="23.47" fill="#000" text-anchor="middle">3000</text>
<path d="M907.35 1067.93V1075.26M1069.48 1067.93V1075.26M1231.61 1067.93V1075.26M1393.74 1067.93V1075.26" stroke="#333333" stroke-width="2.84" fill="none"/>
<text transform="translate(144.3 36.1) scale(1.0001 0.955)" font-size="29.33" fill="#000">Distribution of CD28 intensity for CD4/CD8 subsets. Gate identifed by {staRgate} in blue.</text>
<text transform="translate(832.7 1130.6) scale(0.987 0.955)" font-size="29.33" fill="#000" text-anchor="middle">CD28</text>
<text transform="translate(36.1 585.3) rotate(-90) scale(0.995 0.955)" font-size="29.33" fill="#000" text-anchor="middle">density</text>
</svg></body></html>
